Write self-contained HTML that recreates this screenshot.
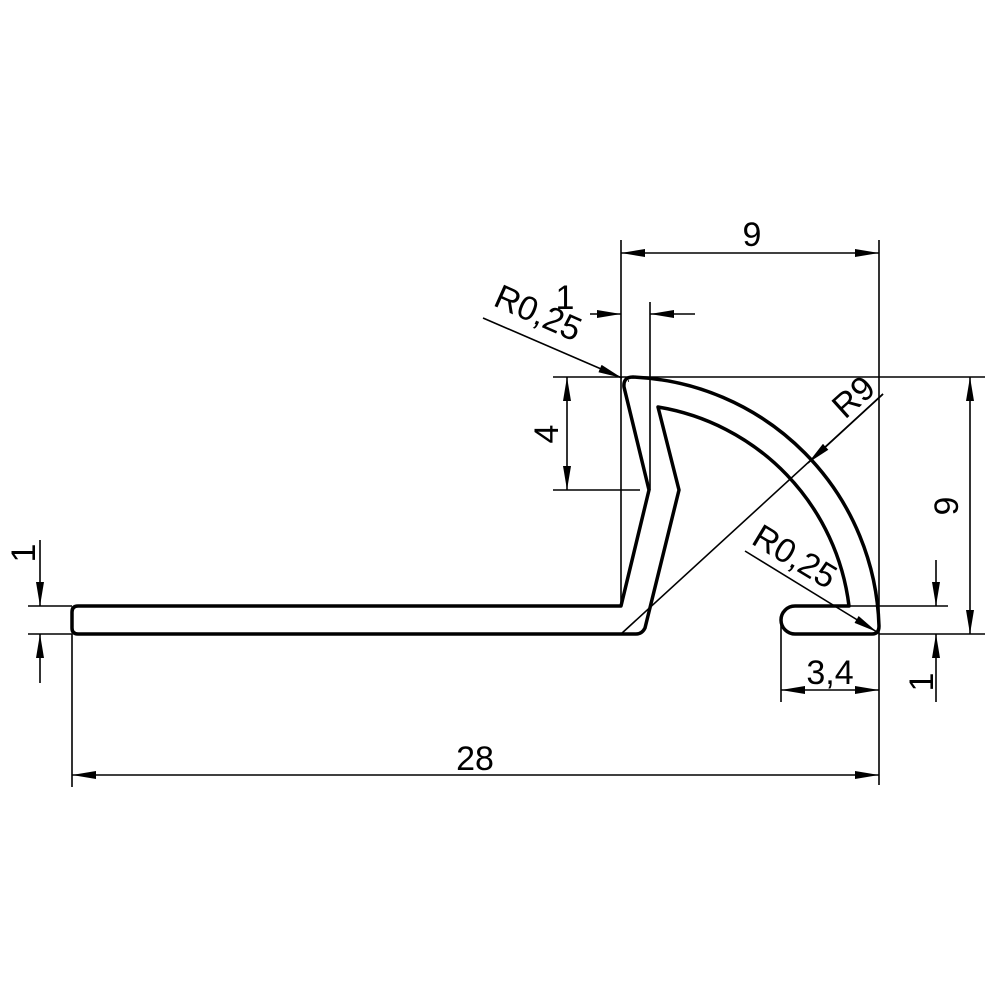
<!DOCTYPE html>
<html><head><meta charset="utf-8"><style>
html,body{margin:0;padding:0;background:#fff}
svg{display:block}
text{font-family:"Liberation Sans",sans-serif;font-size:34px;fill:#000}
</style></head><body>
<svg width="1000" height="1000" viewBox="0 0 1000 1000" xmlns="http://www.w3.org/2000/svg">
<defs>
<marker id="a" viewBox="0 0 24 8" refX="24" refY="4" markerWidth="24" markerHeight="8" markerUnits="userSpaceOnUse" orient="auto-start-reverse">
<path d="M0,0 L24,4 L0,8 Z" fill="#000"/>
</marker>
</defs>
<!-- profile -->
<path d="M78,606 L621,606 L649,490 L624,387 Q623,377 633,377 A257,257 0 0 1 879,626 Q879,634 872,634 L795,634 A14,14 0 0 1 795,606 L849,606 A230,230 0 0 0 658,407 L679,490 L645,628 Q642,634 636,634 L78,634 Q72,634 72,628 L72,612 Q72,606 78,606 Z" fill="none" stroke="#000" stroke-width="3.5" stroke-linejoin="round"/>
<g stroke="#000" stroke-width="1.6" fill="none">
<!-- extension lines -->
<line x1="621" y1="240" x2="621" y2="606"/>
<line x1="879" y1="240" x2="879" y2="785"/>
<line x1="650" y1="302" x2="650" y2="490"/>
<line x1="553" y1="377" x2="985" y2="377"/>
<line x1="553" y1="490" x2="640" y2="490"/>
<line x1="879" y1="634" x2="985" y2="634"/>
<line x1="849" y1="606" x2="948" y2="606"/>
<line x1="781" y1="620" x2="781" y2="702"/>
<line x1="72" y1="634" x2="72" y2="787"/>
<line x1="28" y1="606" x2="72" y2="606"/>
<line x1="28" y1="634" x2="72" y2="634"/>
<!-- dims -->
<line x1="621" y1="253" x2="879" y2="253" marker-start="url(#a)" marker-end="url(#a)"/>
<line x1="72" y1="775" x2="879" y2="775" marker-start="url(#a)" marker-end="url(#a)"/>
<line x1="781" y1="690" x2="879" y2="690" marker-start="url(#a)" marker-end="url(#a)"/>
<line x1="970" y1="377" x2="970" y2="634" marker-start="url(#a)" marker-end="url(#a)"/>
<line x1="567" y1="377" x2="567" y2="490" marker-start="url(#a)" marker-end="url(#a)"/>
<line x1="590" y1="314" x2="621" y2="314" marker-end="url(#a)"/>
<line x1="695" y1="314" x2="650" y2="314" marker-end="url(#a)"/>
<line x1="936" y1="560" x2="936" y2="606" marker-end="url(#a)"/>
<line x1="936" y1="702" x2="936" y2="634" marker-end="url(#a)"/>
<line x1="40" y1="540" x2="40" y2="606" marker-end="url(#a)"/>
<line x1="40" y1="683" x2="40" y2="634" marker-end="url(#a)"/>
<!-- leaders -->
<line x1="483" y1="318" x2="622" y2="378" marker-end="url(#a)"/>
<line x1="629" y1="381" x2="628" y2="381"/>
<line x1="745" y1="551" x2="877" y2="632" marker-end="url(#a)"/>
<line x1="883" y1="394" x2="621" y2="634"/>
<line x1="883" y1="394" x2="808" y2="463" marker-end="url(#a)"/>
</g>
<text x="752" y="246" text-anchor="middle">9</text>
<text x="475" y="770" text-anchor="middle">28</text>
<text x="830" y="684" text-anchor="middle">3,4</text>
<text x="565" y="309" text-anchor="middle">1</text>
<text transform="translate(958,506) rotate(-90)" text-anchor="middle">9</text>
<text transform="translate(558,434) rotate(-90)" text-anchor="middle">4</text>
<text transform="translate(933,682) rotate(-90)" text-anchor="middle">1</text>
<text transform="translate(35,553) rotate(-90)" text-anchor="middle">1</text>
<text transform="translate(492,305) rotate(24)">R0,25</text>
<text transform="translate(750,543) rotate(31)">R0,25</text>
<text transform="translate(845,420) rotate(-42)">R9</text>
</svg>
</body></html>
